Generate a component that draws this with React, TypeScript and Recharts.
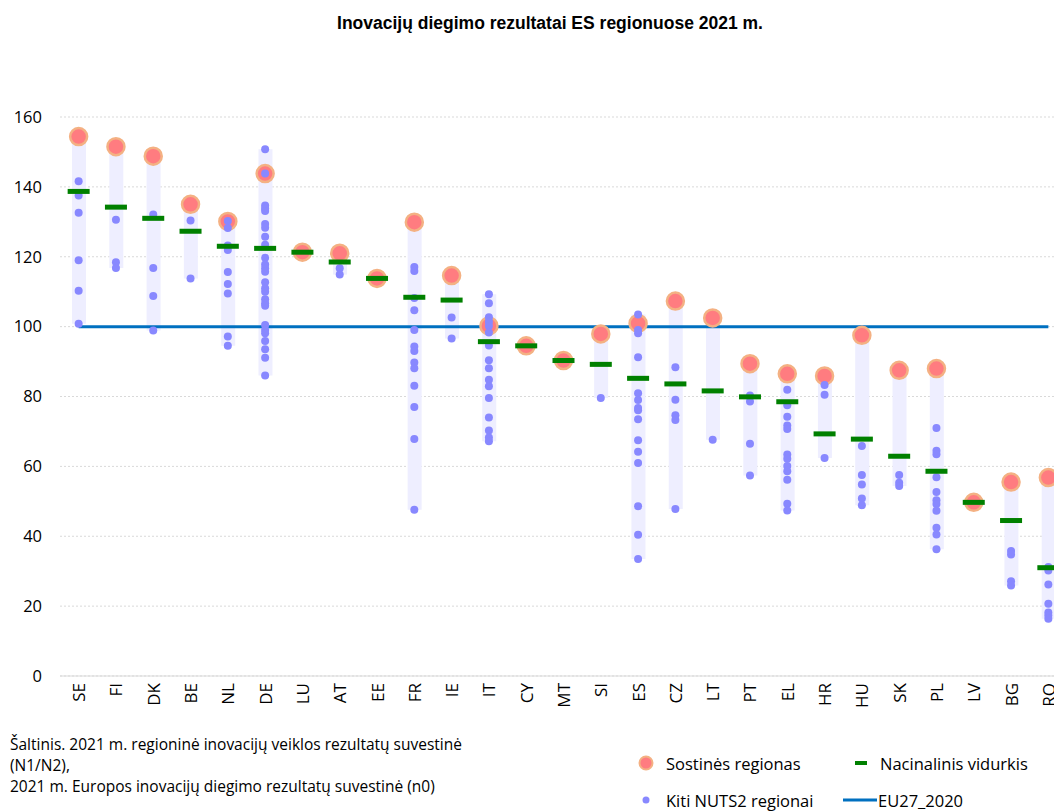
import { ComposedChart, Bar, Line, Scatter, XAxis, YAxis, CartesianGrid } from 'recharts';

const countries = ['SE', 'FI', 'DK', 'BE', 'NL', 'DE', 'LU', 'AT', 'EE', 'FR', 'IE', 'IT', 'CY', 'MT', 'SI', 'ES', 'CZ', 'LT', 'PT', 'EL', 'HR', 'HU', 'SK', 'PL', 'LV', 'BG', 'RO'];

const capitalScore = [154.4, 151.5, 148.8, 135.0, 130.1, 143.8, 121.3, 121.0, 113.8, 129.9, 114.6, 100.2, 94.5, 90.3, 97.9, 100.9, 107.3, 102.5, 89.4, 86.5, 85.9, 97.5, 87.5, 88.0, 49.7, 55.5, 56.8];

const nationalAvg = [138.7, 134.2, 131.0, 127.3, 123.0, 122.4, 121.3, 118.5, 113.8, 108.4, 107.6, 95.7, 94.5, 90.3, 89.2, 85.2, 83.6, 81.6, 79.9, 78.5, 69.3, 67.8, 62.9, 58.6, 49.7, 44.5, 31.0];

const otherRegions: number[][] = [
  [141.6, 137.5, 132.6, 119.0, 110.3, 100.8],
  [130.6, 118.4, 116.8],
  [132.1, 116.8, 108.8, 98.9],
  [130.4, 113.8],
  [130.2, 128.2, 123.2, 121.9, 115.6, 112.2, 109.5, 97.2, 94.5],
  [150.8, 143.8, 134.7, 133.8, 133.1, 129.4, 128.3, 125.7, 123.4, 119.7, 117.8, 116.7, 115.7, 112.7, 111.0, 110.0, 107.8, 106.7, 106.0, 100.5, 99.0, 98.1, 95.9, 93.5, 91.1, 86.0],
  [],
  [116.7, 114.9],
  [],
  [117.1, 115.9, 108.2, 104.7, 99.0, 94.3, 93.0, 89.7, 88.1, 83.1, 77.0, 67.8, 47.6],
  [102.6, 96.6],
  [109.3, 106.7, 102.7, 101.4, 100.2, 98.3, 94.6, 90.4, 88.1, 84.8, 82.9, 79.6, 74.0, 70.3, 68.3, 67.2],
  [],
  [],
  [79.6],
  [103.5, 99.0, 98.1, 91.2, 80.9, 79.0, 76.7, 76.1, 73.5, 67.5, 64.2, 61.0, 48.6, 40.4, 33.5],
  [88.4, 79.1, 74.6, 73.3, 47.8],
  [67.6],
  [80.3, 78.6, 66.5, 57.4],
  [81.9, 77.5, 74.2, 71.7, 70.7, 63.4, 62.2, 60.1, 58.6, 56.2, 49.3, 47.4],
  [83.3, 80.5, 62.4],
  [65.8, 57.5, 54.8, 50.8, 48.9],
  [57.5, 55.3, 54.4],
  [71.0, 64.5, 63.5, 56.9, 52.7, 50.3, 49.2, 47.3, 42.4, 40.5, 36.3],
  [],
  [35.8, 34.8, 27.1, 25.9],
  [31.2, 30.2, 26.2, 20.7, 18.2, 17.3, 16.4],
];

const EU_LEVEL = 100;
const yTicks = [0, 20, 40, 60, 80, 100, 120, 140, 160];

const ARIAL = '"Liberation Sans", Arial, sans-serif';
const BODY = '"Open Sans", "Noto Sans", sans-serif';

const rows = countries.map((c, i) => {
  const all = [capitalScore[i], ...otherRegions[i]];
  return { c, range: [Math.min(...all), Math.max(...all)], eu: EU_LEVEL };
});
const capitalPts = countries.map((c, i) => ({ c, v: capitalScore[i] }));
const avgPts = countries.map((c, i) => ({ c, v: nationalAvg[i] }));
const otherPts = countries.flatMap((c, i) => otherRegions[i].map(v => ({ c, v })));

const CountryTick = (props: any) => {
  const { x, y, payload } = props;
  return (
    <text
      x={x}
      y={y}
      transform={`rotate(-90, ${x}, ${y})`}
      textAnchor="end"
      dominantBaseline="central"
      fontSize={17}
      fontFamily={BODY}
      fill="#000"
    >
      {payload.value}
    </text>
  );
};

export default function App() {
  return (
    <div style={{ position: 'absolute', left: 0, top: 0, width: 1054, height: 812, overflow: 'hidden', background: '#fff', fontFamily: BODY }}>
      <div style={{ position: 'absolute', left: 0, top: 12, width: 1100, textAlign: 'center', fontSize: 17.5, lineHeight: '22px', fontWeight: 'bold', fontFamily: ARIAL, color: '#000' }}>
        Inovacijų diegimo rezultatai ES regionuose 2021 m.
      </div>
      <ComposedChart width={1070} height={812} data={rows} margin={{ top: 117, right: 3, left: 0, bottom: 106 }}>
        <CartesianGrid vertical={false} stroke="#d9d9d9" strokeDasharray="2 2" />
        <XAxis
          dataKey="c"
          type="category"
          allowDuplicatedCategory={false}
          interval={0}
          height={30}
          tick={<CountryTick />}
          tickLine={false}
          tickSize={0}
          tickMargin={7}
          axisLine={{ stroke: '#d9d9d9' }}
        />
        <YAxis
          domain={[0, 160]}
          ticks={yTicks}
          width={60}
          tickSize={0}
          tickMargin={18}
          tickLine={false}
          axisLine={false}
          tick={{ fontSize: 16.5, fill: '#000', fontFamily: BODY }}
        />
        <Bar dataKey="range" barSize={14} fill="#eeeeff" isAnimationActive={false} />
        <Line dataKey="eu" stroke="#0070c0" strokeWidth={3} dot={false} isAnimationActive={false} />
        <Scatter
          data={capitalPts}
          dataKey="v"
          isAnimationActive={false}
          shape={(p: any) => <circle cx={p.cx} cy={p.cy} r={8.5} fill="#ff7c80" stroke="#f4b183" strokeWidth={2.5} />}
        />
        <Scatter
          data={otherPts}
          dataKey="v"
          isAnimationActive={false}
          shape={(p: any) => <circle cx={p.cx} cy={p.cy} r={4} fill="#8888ff" />}
        />
        <Scatter
          data={avgPts}
          dataKey="v"
          isAnimationActive={false}
          shape={(p: any) => <rect x={p.cx - 11} y={p.cy - 2.5} width={22} height={5} fill="#008000" />}
        />
      </ComposedChart>

      <div style={{ position: 'absolute', left: 10, top: 734, fontSize: 15.5, lineHeight: '21px', color: '#000' }}>
        Šaltinis. 2021 m. regioninė inovacijų veiklos rezultatų suvestinė
        <br />
        (N1/N2),
        <br />
        2021 m. Europos inovacijų diegimo rezultatų suvestinė (n0)
      </div>

      <svg style={{ position: 'absolute', left: 0, top: 740, overflow: 'visible' }} width={1054} height={72}>
        <circle cx={646} cy={23} r={6.5} fill="#ff7c80" stroke="#f4b183" strokeWidth={2} />
        <text x={666} y={23} dominantBaseline="central" fontSize={16.5} fontFamily={BODY} fill="#000">Sostinės regionas</text>
        <rect x={855} y={21} width={12} height={4} fill="#008000" />
        <text x={880} y={23} dominantBaseline="central" fontSize={16.5} fontFamily={BODY} fill="#000">Nacinalinis vidurkis</text>
        <circle cx={646} cy={60} r={3.5} fill="#8888ff" />
        <text x={666} y={60} dominantBaseline="central" fontSize={16.5} fontFamily={BODY} fill="#000">Kiti NUTS2 regionai</text>
        <line x1={843} y1={60} x2={877} y2={60} stroke="#0070c0" strokeWidth={3} />
        <text x={878} y={60} dominantBaseline="central" fontSize={16.5} fontFamily={BODY} fill="#000">EU27_2020</text>
      </svg>
    </div>
  );
}
